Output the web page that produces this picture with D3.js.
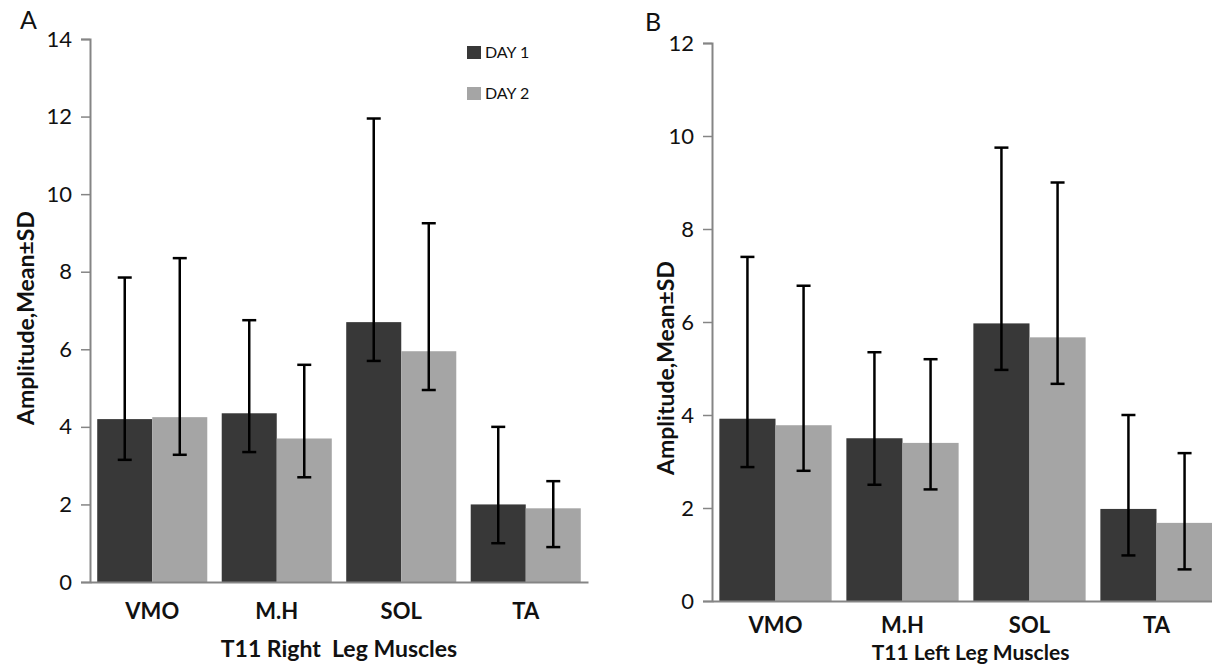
<!DOCTYPE html>
<html>
<head>
<meta charset="utf-8">
<script src="https://cdn.jsdelivr.net/npm/d3@7"></script>
<style>
  html, body { margin: 0; padding: 0; background: #fff; }
  svg { display: block; font-family: Lato, "Open Sans", sans-serif; }
</style>
</head>
<body>
<svg id="chart" width="1212" height="666"></svg>
<script>
// ---- data ----
const categories = ["VMO", "M.H", "SOL", "TA"];
const seriesNames = ["DAY 1", "DAY 2"];

// Panel A: T11 right leg
const rightDay1Mean = [4.2, 4.35, 6.7, 2.0];
const rightDay1Upper = [7.85, 6.75, 11.95, 4.0];
const rightDay1Lower = [3.15, 3.35, 5.7, 1.0];
const rightDay2Mean = [4.25, 3.7, 5.95, 1.9];
const rightDay2Upper = [8.35, 5.6, 9.25, 2.6];
const rightDay2Lower = [3.28, 2.7, 4.95, 0.9];
const rightTicks = [0, 2, 4, 6, 8, 10, 12, 14];

// Panel B: T11 left leg
const leftDay1Mean = [3.92, 3.5, 5.97, 1.98];
const leftDay1Upper = [7.4, 5.35, 9.75, 4.0];
const leftDay1Lower = [2.88, 2.5, 4.97, 0.98];
const leftDay2Mean = [3.78, 3.4, 5.67, 1.68];
const leftDay2Upper = [6.78, 5.2, 9.0, 3.18];
const leftDay2Lower = [2.8, 2.4, 4.67, 0.68];
const leftTicks = [0, 2, 4, 6, 8, 10, 12];

const colors = ["#383838", "#a5a5a5"];

const svg = d3.select("#chart");

const panels = [
  {
    letter: "A", letterX: 20, letterY: 29,
    x0: 90, x1: 588, yTop: 39, yBot: 582, yMax: 14, ticks: rightTicks,
    catY: 619, title: "T11 Right  Leg Muscles", titleY: 657, titleSize: 23,
    yTitleX: 34, yTitleY: 318,
    series: [
      { mean: rightDay1Mean, upper: rightDay1Upper, lower: rightDay1Lower },
      { mean: rightDay2Mean, upper: rightDay2Upper, lower: rightDay2Lower }
    ],
    legend: true
  },
  {
    letter: "B", letterX: 645, letterY: 31,
    x0: 712, x1: 1220, yTop: 43, yBot: 601, yMax: 12, ticks: leftTicks,
    catY: 633, title: "T11 Left Leg Muscles", titleY: 660, titleSize: 21,
    yTitleX: 674, yTitleY: 368,
    series: [
      { mean: leftDay1Mean, upper: leftDay1Upper, lower: leftDay1Lower },
      { mean: leftDay2Mean, upper: leftDay2Upper, lower: leftDay2Lower }
    ],
    legend: false
  }
];

panels.forEach(p => {
  const g = svg.append("g");
  const x = d3.scaleBand().domain(categories).range([p.x0, p.x1])
    .paddingInner(0.116).paddingOuter(0.058);
  const xs = d3.scaleBand().domain(d3.range(seriesNames.length)).range([0, x.bandwidth()]).padding(0);
  const y = d3.scaleLinear().domain([0, p.yMax]).range([p.yBot, p.yTop]);

  // bars
  p.series.forEach((s, si) => {
    g.append("g").selectAll("rect").data(categories).join("rect")
      .attr("x", c => x(c) + xs(si))
      .attr("width", xs.bandwidth())
      .attr("y", (c, i) => y(s.mean[i]))
      .attr("height", (c, i) => y(0) - y(s.mean[i]))
      .attr("fill", colors[si]);
  });

  // y axis
  const yAxis = d3.axisLeft(y).tickValues(p.ticks).tickSize(9).tickPadding(9);
  const ya = g.append("g").attr("transform", `translate(${p.x0},0)`).call(yAxis);
  ya.select(".domain").attr("stroke", "#858585").attr("stroke-width", 2);
  ya.selectAll(".tick line").attr("stroke", "#858585").attr("stroke-width", 1.5);
  ya.selectAll(".tick text").attr("font-size", 22).attr("fill", "#111")
    .attr("font-family", "Lato, sans-serif");

  // x baseline
  const xAxis = d3.axisBottom(x).tickSize(0).tickPadding(0);
  const xa = g.append("g").attr("transform", `translate(0,${p.yBot})`).call(xAxis);
  xa.select(".domain").attr("stroke", "#858585").attr("stroke-width", 2);
  xa.selectAll(".tick text").attr("font-size", 22).attr("font-weight", "bold").attr("fill", "#111")
    .attr("dy", null).attr("y", p.catY - p.yBot)
    .attr("font-family", "Lato, sans-serif");

  // error bars
  p.series.forEach((s, si) => {
    const eg = g.append("g").attr("stroke", "#000").attr("stroke-width", 2.5);
    categories.forEach((c, i) => {
      const cx = x(c) + xs(si) + xs.bandwidth() / 2;
      eg.append("line").attr("x1", cx).attr("x2", cx)
        .attr("y1", y(s.lower[i])).attr("y2", y(s.upper[i]));
      [s.lower[i], s.upper[i]].forEach(v => {
        eg.append("line").attr("x1", cx - 7).attr("x2", cx + 7)
          .attr("y1", y(v)).attr("y2", y(v));
      });
    });
  });

  // x title
  g.append("text").attr("x", (p.x0 + (p.legend ? p.x1 : 1229)) / 2).attr("y", p.titleY)
    .attr("text-anchor", "middle").attr("font-size", p.titleSize).attr("font-weight", "bold")
    .attr("fill", "#111").style("white-space", "pre").text(p.title);

  // y title
  g.append("text").attr("transform", `translate(${p.yTitleX},${p.yTitleY}) rotate(-90)`)
    .attr("text-anchor", "middle").attr("font-size", 23).attr("font-weight", "bold")
    .attr("fill", "#111").text("Amplitude,Mean±SD");

  // panel letter
  g.append("text").attr("x", p.letterX).attr("y", p.letterY)
    .attr("font-size", 25).attr("fill", "#111").text(p.letter);

  // legend
  if (p.legend) {
    const lg = g.append("g").attr("transform", "translate(467,46)");
    seriesNames.forEach((n, i) => {
      const row = lg.append("g").attr("transform", `translate(0,${i * 41})`);
      row.append("rect").attr("width", 14).attr("height", 13).attr("fill", colors[i]);
      row.append("text").attr("x", 18).attr("y", 12).attr("font-size", 16)
        .attr("fill", "#111").text(n);
    });
  }
});
</script>
</body>
</html>
